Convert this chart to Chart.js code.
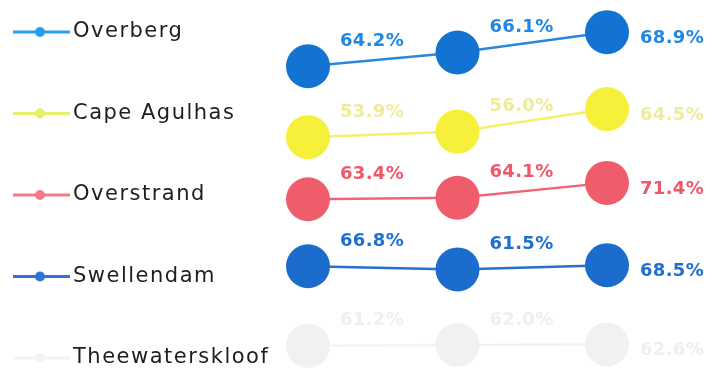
<!DOCTYPE html>
<html>
<head>
<meta charset="utf-8">
<script src="https://cdn.jsdelivr.net/npm/chart.js@4"></script>
<style>
  html, body { margin: 0; padding: 0; background: #fff; }
  #wrap { position: relative; width: 728px; height: 373px; }
</style>
</head>
<body>
<div id="wrap"><canvas id="graf"></canvas></div>
<script>
// Three survey rounds per municipality
const periods = ['2011', '2016', '2021'];
const municipalities = ['Overberg', 'Cape Agulhas', 'Overstrand', 'Swellendam', 'Theewaterskloof'];

const overberg = [64.2, 66.1, 68.9];
const capeAgulhas = [53.9, 56.0, 64.5];
const overstrand = [63.4, 64.1, 71.4];
const swellendam = [66.8, 61.5, 68.5];
const theewaterskloof = [61.2, 62.0, 62.6];

const series = [overberg, capeAgulhas, overstrand, swellendam, theewaterskloof];

const pointColors = ['#1273d2', '#f6f03a', '#ef5d6c', '#1c6ccd', '#f1f1f1'];
const lineColors = ['#2a86de', '#f4f06a', '#ef6674', '#2a6fcc', '#f3f3f3'];
const labelColors = ['#1f88e2', '#eeec9c', '#f0586a', '#1f6fd0', '#efefef'];
const legendColors = ['#2a9df0', '#e6f06a', '#f77a86', '#2f74d4', '#f4f4f4'];

// each municipality gets its own band: one y axis per row, stacked top to bottom
const scales = {
  x: { type: 'category', display: false, offset: false }
};
const bands = [[63.05, 73.34], [49.35, 77.5], [51.35, 87.9], [13.3, 137.3], [34, 108.6]];
bands.forEach((b, i) => {
  scales['y' + i] = {
    type: 'linear', display: false, position: 'left',
    stack: 'rows', stackWeight: 1, weight: bands.length - i,
    min: b[0], max: b[1]
  };
});

const valueLabels = {
  id: 'valueLabels',
  afterDatasetsDraw(chart) {
    const ctx = chart.ctx;
    ctx.save();
    ctx.font = 'bold 18px "DejaVu Sans"';
    ctx.letterSpacing = '0.3px';
    ctx.textAlign = 'center';
    ctx.textBaseline = 'middle';
    chart.data.datasets.forEach((ds, i) => {
      chart.getDatasetMeta(i).data.forEach((pt, j) => {
        const last = j === ds.data.length - 1;
        ctx.fillStyle = labelColors[i];
        ctx.fillText(ds.data[j].toFixed(1) + '%', pt.x + (last ? 65 : 64), pt.y + (last ? 6 : -25));
      });
    });
    ctx.restore();
  }
};

const sideLegend = {
  id: 'sideLegend',
  afterDraw(chart) {
    const ctx = chart.ctx;
    ctx.save();
    ctx.font = '21px "DejaVu Sans"';
    ctx.letterSpacing = '1.5px';
    ctx.textBaseline = 'middle';
    municipalities.forEach((name, i) => {
      const y = 32 + i * 81.5;
      ctx.strokeStyle = legendColors[i];
      ctx.fillStyle = legendColors[i];
      ctx.lineWidth = 3;
      ctx.beginPath();
      ctx.moveTo(13, y);
      ctx.lineTo(70, y);
      ctx.stroke();
      ctx.beginPath();
      ctx.arc(40, y, 5, 0, Math.PI * 2);
      ctx.fill();
      ctx.fillStyle = '#1e1e1e';
      ctx.fillText(name, 73, y);
    });
    ctx.restore();
  }
};

new Chart(document.querySelector('#graf'), {
  type: 'line',
  data: {
    labels: periods,
    datasets: series.map((values, i) => ({
      label: municipalities[i],
      data: values,
      yAxisID: 'y' + i,
      borderColor: lineColors[i],
      borderWidth: 2.5,
      pointRadius: 22,
      pointHoverRadius: 22,
      pointBackgroundColor: pointColors[i],
      pointBorderColor: pointColors[i],
      pointBorderWidth: 0,
      tension: 0,
      clip: false
    }))
  },
  options: {
    responsive: true,
    maintainAspectRatio: false,
    animation: false,
    layout: { autoPadding: false, padding: { left: 308, right: 121, top: 0, bottom: 0 } },
    scales,
    plugins: {
      legend: { display: false },
      tooltip: { enabled: false }
    }
  },
  plugins: [valueLabels, sideLegend]
});
</script>
</body>
</html>
